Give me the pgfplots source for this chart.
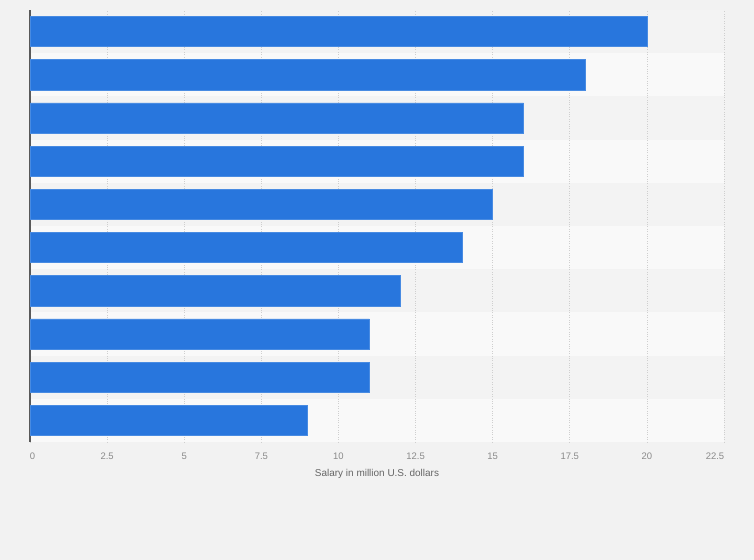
\documentclass[border=0pt]{standalone}
\usepackage{pgfplots}
\pgfplotsset{compat=1.18}
\usepackage{fontspec}
\setmainfont{Liberation Sans}
\definecolor{pagebg}{HTML}{F2F2F2}
\definecolor{stripedark}{HTML}{F3F3F3}
\definecolor{stripelight}{HTML}{F9F9F9}
\definecolor{barblue}{HTML}{2876DD}
\definecolor{gridgray}{HTML}{CFCFCF}
\definecolor{ticktext}{HTML}{8A8A8A}
\definecolor{labeltext}{HTML}{666666}

\begin{document}
\begin{tikzpicture}
  \path (0,0) rectangle (754bp,560bp);
  \begin{axis}[
    set layers,
    at={(30bp,118bp)}, anchor=south west,
    scale only axis,
    width=694bp, height=432bp,
    xbar, bar width=0.7,
    xmin=0, xmax=22.5,
    ymin=0.5, ymax=10.5,
    axis x line=bottom, axis y line=left,
    x axis line style={draw=none},
    y axis line style={draw=black!65, line width=1.4bp, -},
    ytick=\empty,
    xtick={0,2.5,5,7.5,10,12.5,15,17.5,20,22.5},
    % end labels sit a little inward, as in the reference
    xticklabels={\hspace*{5bp}0,2.5,5,7.5,10,12.5,15,17.5,20,22.5\hspace*{18bp}},
    major tick length=0pt,
    xmajorgrids,
    grid style={gridgray, dotted, line width=0.6bp},
    xticklabel style={font=\fontsize{9.5}{11}\selectfont, text=ticktext, yshift=-7bp},
    xlabel={Salary in million U.S. dollars},
    xlabel style={font=\fontsize{10}{12}\selectfont, text=labeltext, yshift=-3bp},
  ]
    \begin{pgfonlayer}{axis background}
      % page background, the whole 754 x 560 picture
      \fill[pagebg] ([shift={(-30bp,-118bp)}]rel axis cs:0,0) rectangle ++(754bp,560bp);
      \fill[stripedark]  (axis cs:0,9.5) rectangle (axis cs:22.5,10.5);
      \fill[stripelight] (axis cs:0,8.5) rectangle (axis cs:22.5,9.5);
      \fill[stripedark]  (axis cs:0,7.5) rectangle (axis cs:22.5,8.5);
      \fill[stripelight] (axis cs:0,6.5) rectangle (axis cs:22.5,7.5);
      \fill[stripedark]  (axis cs:0,5.5) rectangle (axis cs:22.5,6.5);
      \fill[stripelight] (axis cs:0,4.5) rectangle (axis cs:22.5,5.5);
      \fill[stripedark]  (axis cs:0,3.5) rectangle (axis cs:22.5,4.5);
      \fill[stripelight] (axis cs:0,2.5) rectangle (axis cs:22.5,3.5);
      \fill[stripedark]  (axis cs:0,1.5) rectangle (axis cs:22.5,2.5);
      \fill[stripelight] (axis cs:0,0.5) rectangle (axis cs:22.5,1.5);
    \end{pgfonlayer}
    \addplot[fill=barblue, draw=barblue!85!white, line width=0.5bp] coordinates {
      (20,10) (18,9) (16,8) (16,7) (15,6) (14,5) (12,4) (11,3) (11,2) (9,1)
    };
  \end{axis}
\end{tikzpicture}
\end{document}
